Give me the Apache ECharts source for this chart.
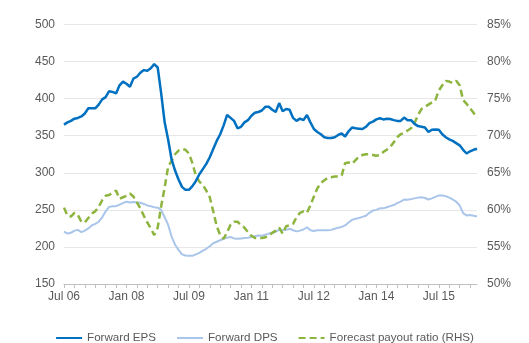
<!DOCTYPE html>
<html>
<head>
<meta charset="utf-8">
<script src="https://cdn.jsdelivr.net/npm/echarts@6/dist/echarts.min.js"></script>
<style>
html,body{margin:0;padding:0;background:#fff;}
#chart{width:529px;height:343px;}
</style>
</head>
<body>
<div id="chart"></div>
<script>
// Monthly categories Jul 06 .. Jun 16
var monthNames = ['Jan','Feb','Mar','Apr','May','Jun','Jul','Aug','Sep','Oct','Nov','Dec'];
var categories = [];
for (var i = 0; i < 120; i++) {
  var mi = (6 + i) % 12;
  var yr = 6 + Math.floor((6 + i) / 12);
  categories.push(monthNames[mi] + ' ' + (yr < 10 ? '0' + yr : '' + yr));
}

var forwardEPS = [
  365, 368, 370, 373, 374, 376, 380, 387, 387, 387,
  392, 399, 402, 410, 409, 407, 418, 423, 420, 416,
  427, 429.5, 435, 438.5, 437.5, 441, 446.5, 442, 407, 368,
  345, 318, 303, 291, 281, 277, 277, 282, 289, 298,
  305, 312, 321, 332, 343, 352, 364, 378, 374, 370,
  360, 362, 368, 371, 377, 381, 382, 384, 389, 389,
  385, 382, 394, 383, 386, 385, 374, 370, 373, 371,
  378, 368, 359, 355, 352, 348, 347, 347, 348, 351,
  353, 349, 356, 361, 360, 359.5, 359, 362, 367, 369,
  372, 373.5, 372, 373, 372.5, 371, 370, 370, 374.5, 371,
  371, 366, 363, 362, 361, 355, 358, 358.5, 358, 352,
  348, 345, 343, 340, 337, 331, 326, 329, 331, 332.5
];

var forwardDPS = [
  220.5, 218, 219, 222, 223, 220, 222, 225, 229, 231,
  234, 240, 248, 254, 255, 255, 257, 259, 261, 260,
  260.5, 260, 259.5, 258, 256, 255, 253.5, 253, 250, 240,
  230, 214, 203, 196, 190, 188.5, 188, 188, 190, 192,
  195, 197.5, 201, 205, 207, 209, 211, 212.5, 213.5, 211.5,
  211, 211.5, 212, 212.5, 213.5, 214.5, 215.5, 215, 216.5, 218,
  219, 220.5, 223, 222.5, 223, 224.5, 222.5, 221, 222, 223.5,
  226.5, 222.5, 221.5, 222.5, 222.5, 222.5, 222.5, 223, 224.5, 226,
  227, 229, 233, 236.5, 238, 239, 240.5, 242, 246, 249,
  250, 252, 252, 253.5, 255, 256.5, 259, 261, 264, 263.5,
  264.5, 265.5, 266.5, 267, 266, 264, 265.5, 267.5, 269.5, 269.5,
  268.5, 266.5, 264, 261, 256, 245.5, 242.5, 243, 242, 241
];

var payoutRatio = [
  60.3, 59.2, 59.1, 59.6, 59.3, 58.4, 58.3, 58.9, 59.5, 59.8,
  60.4, 61.3, 61.9, 62.0, 62.3, 62.6, 61.5, 61.7, 61.9, 62.2,
  61.8, 61.0, 60.2, 59.2, 58.3, 57.5, 56.6, 57.6, 60.5, 63.0,
  65.8, 66.6, 67.5, 68.0, 68.2, 68.1, 67.6, 66.3, 64.6, 63.8,
  63.4, 62.6, 61.7, 59.8, 57.8, 56.6, 56.1, 57.0, 58.0, 58.4,
  58.4, 57.9, 57.6, 57.0, 56.5, 56.2, 56.2, 56.2, 56.3, 56.5,
  56.9, 57.2, 57.6, 56.8, 57.8, 57.9, 58.1, 59.0, 59.6, 59.8,
  59.6, 60.6, 61.8, 62.9, 63.6, 64.0, 64.3, 64.4, 64.5, 64.5,
  64.6, 66.3, 66.4, 66.2, 66.7, 67.2, 67.4, 67.5, 67.5, 67.4,
  67.3, 67.4, 67.8, 68.1, 68.5, 69.1, 69.8, 70.2, 70.4, 70.7,
  71.0, 71.7, 72.8, 73.6, 73.9, 74.2, 74.5, 74.8, 76.1, 76.8,
  77.4, 77.3, 77.1, 77.4, 76.8, 74.8, 74.3, 73.7, 73.1, 72.4
];

var leftTicks = {min: 150, max: 500, interval: 50};
var rightTicks = {min: 50, max: 85, interval: 5};

var chart = echarts.init(document.getElementById('chart'));
var font = 'Liberation Sans, Arial, sans-serif';
chart.setOption({
  animation: false,
  backgroundColor: '#ffffff',
  grid: {left: 64, right: 52, top: 24.5, bottom: 59, containLabel: false},
  legend: {
    top: 327,
    left: 'center',
    itemWidth: 26,
    itemHeight: 10,
    itemGap: 20,
    itemStyle: {opacity: 0},
    textStyle: {color: '#595959', fontSize: 11.6, fontFamily: font},
    data: ['Forward EPS', 'Forward DPS', 'Forecast payout ratio (RHS)']
  },
  xAxis: {
    type: 'category',
    boundaryGap: false,
    data: categories,
    axisLine: {lineStyle: {color: '#bfbfbf', width: 1}},
    axisTick: {show: true, interval: 2, length: 4, lineStyle: {color: '#bfbfbf'}},
    axisLabel: {interval: 17, color: '#595959', fontSize: 12, fontFamily: font, margin: 7},
    splitLine: {show: false}
  },
  yAxis: [
    {
      type: 'value',
      min: leftTicks.min, max: leftTicks.max, interval: leftTicks.interval,
      axisLine: {show: false},
      axisTick: {show: false},
      axisLabel: {color: '#595959', fontSize: 12, fontFamily: font, margin: 9},
      splitLine: {lineStyle: {color: '#e6e6e6', width: 1}}
    },
    {
      type: 'value',
      min: rightTicks.min, max: rightTicks.max, interval: rightTicks.interval,
      axisLine: {show: false},
      axisTick: {show: false},
      axisLabel: {color: '#595959', fontSize: 12, fontFamily: font, margin: 10, formatter: '{value}%'},
      splitLine: {show: false}
    }
  ],
  series: [
    {
      name: 'Forward DPS',
      type: 'line',
      data: forwardDPS,
      yAxisIndex: 0,
      symbol: 'none',
      lineStyle: {color: '#a9c5ea', width: 2},
      itemStyle: {color: '#a9c5ea'},
      z: 2
    },
    {
      name: 'Forecast payout ratio (RHS)',
      type: 'line',
      data: payoutRatio,
      yAxisIndex: 1,
      symbol: 'none',
      lineStyle: {color: '#8db43e', width: 2.5, type: [7, 4]},
      itemStyle: {color: '#8db43e'},
      z: 3
    },
    {
      name: 'Forward EPS',
      type: 'line',
      data: forwardEPS,
      yAxisIndex: 0,
      symbol: 'none',
      lineStyle: {color: '#0070c0', width: 2.5},
      itemStyle: {color: '#0070c0'},
      z: 4
    }
  ]
});
</script>
</body>
</html>
